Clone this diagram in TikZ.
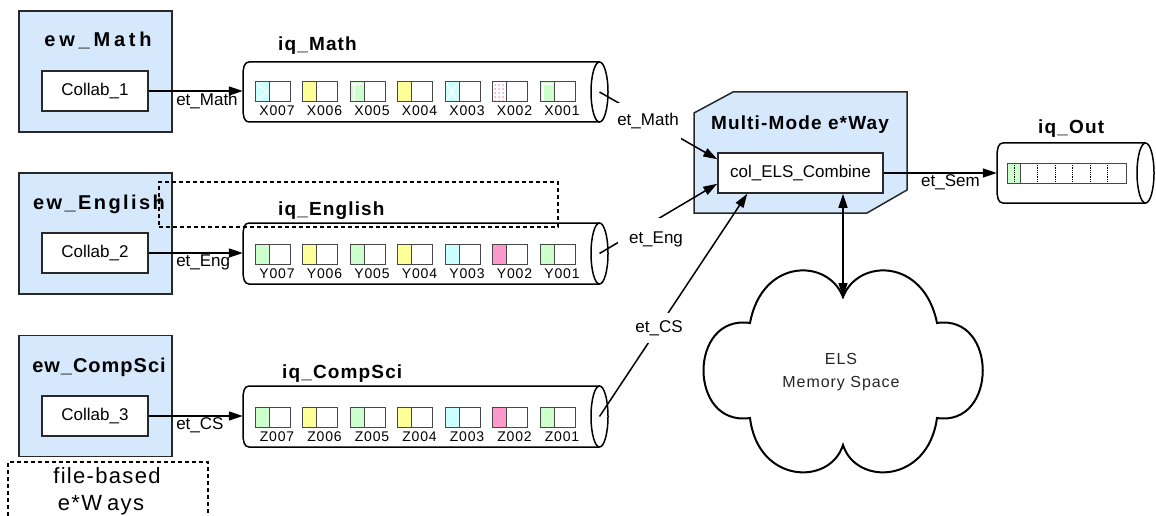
\documentclass[tikz,border=0pt]{standalone}
\usepackage{fontspec}
\setmainfont{Liberation Sans}
\newfontfamily\lsfont{Liberation Sans}[LetterSpace=6]
\usetikzlibrary{arrows.meta,calc}
\definecolor{ewblue}{RGB}{214,233,252}
\definecolor{qgreen}{RGB}{204,255,204}
\definecolor{qyellow}{RGB}{255,255,153}
\definecolor{qcyan}{RGB}{204,255,255}
\definecolor{qpink}{RGB}{255,153,204}
\definecolor{linegray}{RGB}{40,40,40}
\newcommand\fsz[2]{\fontsize{#1}{#2}\selectfont}
\newcommand\queuebody[4]{%
  \draw[qline] (#2,{#4-#3}) -- ({#1+6},{#4-#3}) .. controls ({#1+1},{#4-#3}) and (#1,{#4-#3-6}) .. (#1,{#4-#3-14})
     -- (#1,{-#3-#4+14}) .. controls (#1,{-#3-#4+6}) and ({#1+1},{-#3-#4}) .. ({#1+6},{-#3-#4}) -- (#2,{-#3-#4});
  \draw[qline] (#2,-#3) ellipse [x radius=8.5, y radius=#4];
}
\newcommand\qitem[5]{%
  \fill[#3] (#1,-#2) rectangle ++(14,-20);
  #5
  \draw[itemline] (#1,-#2) rectangle ++(35,-20);
  \draw[itemline] ({#1+14},-#2) -- ++(0,-20);
  \node[itemlbl, anchor=base] (l#4) at ({#1+22},{-#2-34}) {#4};
}
\tikzset{
  x=1pt, y=1pt,
  ewbox/.style={draw=linegray, line width=1.5pt, fill=ewblue, minimum width=153pt, minimum height=121pt, inner sep=0pt},
  collab/.style={draw=linegray, line width=1.5pt, fill=white, minimum width=106pt, minimum height=40pt, inner sep=0pt, font=\fsz{17}{20}},
  title/.style={font=\lsfont\bfseries\fsz{19}{22}, inner sep=0pt},
  ewtitle/.style={font=\lsfont\bfseries\fsz{20}{23}, inner sep=0pt},
  lbl/.style={font=\fsz{17}{20}, inner sep=1pt},
  itemlbl/.style={font=\lsfont\fsz{14}{16}, inner sep=0pt},
  arr/.style={line width=1.5pt, -{Triangle[length=14pt,width=9pt]}},
  qline/.style={line width=1.5pt},
  qnode/.style={draw=none, inner sep=0pt},
  itemline/.style={draw=linegray!85, line width=1pt},
  dashbox/.style={dash pattern=on 4pt off 3pt, line width=1.2pt},
  wl/.style={white, line width=1.3pt},
}
\begin{document}
\begin{tikzpicture}
\fill[white] (0,0) rectangle (1156,-516);
\useasboundingbox (0,0) rectangle (1156,-516);

% ---- e*Way boxes ----
\node[ewbox] (ewM) at (95.5,-71.5) {};
\node[ewtitle, anchor=base] (ewMt) at (98,-47) {\addfontfeature{LetterSpace=19}ew\_Math};
\node[collab] (c1) at (95,-91) {Collab\_1};

\node[ewbox] (ewE) at (95.5,-233.5) {};
\node[ewtitle, anchor=base] (ewEt) at (99,-209) {\addfontfeature{LetterSpace=12}ew\_English};
\node[collab] (c2) at (95,-253) {Collab\_2};

\node[ewbox] (ewC) at (95.5,-396) {};
\node[ewtitle, anchor=base] (ewCt) at (99,-372) {\addfontfeature{LetterSpace=5}ew\_CompSci};
\node[collab] (c3) at (95,-416) {Collab\_3};

\draw[dashbox] (8,-516) -- (8,-462) -- (208,-462) -- (208,-516);
\node[font=\lsfont\fsz{22}{27}, anchor=base, inner sep=0pt] (fb1) at (107,-483) {file-based};
\node[font=\lsfont\fsz{22}{27}, anchor=base, inner sep=0pt] (fb2) at (101,-510) {e*W\hspace{5pt}ays};

% ---- queues ----
\node[qnode, minimum width=365pt, minimum height=60pt] (qm) at (425.5,-92) {};
\queuebody{243}{599.5}{92}{30}
\coordinate (qmR) at (599.5,-92);
\node[title, anchor=base west] (qmt) at (278,-51) {iq\_Math};

\node[qnode, minimum width=365pt, minimum height=61pt] (qe) at (425.5,-253.5) {};
\queuebody{243}{599.5}{253.5}{30.5}
\coordinate (qeR) at (599.5,-253.5);
\node[title, anchor=base west] (qet) at (278,-215) {iq\_English};

\node[qnode, minimum width=365pt, minimum height=61pt] (qc) at (425.5,-416.5) {};
\queuebody{243}{599.5}{416.5}{30.5}
\coordinate (qcR) at (599.5,-416.5);
\node[title, anchor=base west] (qct) at (282,-378) {iq\_CompSci};

\node[qnode, minimum width=157pt, minimum height=60pt] (qo) at (1075.5,-173) {};
\queuebody{997}{1145.5}{173}{30}
\node[title, anchor=base west] (qot) at (1038,-134) {iq\_Out};

% items iq_Math
\qitem{255}{82}{qcyan}{X007}{\draw[wl] (256,-83) -- (267,-92) -- (256,-101);}
\qitem{302.5}{82}{qyellow}{X006}{}
\qitem{350}{82}{qgreen}{X005}{\draw[wl] (351,-84) -- (363,-84); \draw[wl] (354,-84) -- (354,-101);}
\qitem{397.5}{82}{qyellow}{X004}{}
\qitem{445}{82}{qcyan}{X003}{\draw[wl] (446,-83) -- (458,-101); \draw[wl] (458,-83) -- (446,-101);}
\qitem{492.5}{82}{white}{X002}{\foreach \i in {0,1,2} \foreach \j in {0,...,4} {\fill[qpink] ({495+4*\i},{-85-4*\j}) circle (1pt);}}
\qitem{540}{82}{qgreen}{X001}{\draw[wl] (543,-101) -- (543,-84) -- (553,-84);}

% items iq_English
\qitem{255}{244}{qgreen}{Y007}{}
\qitem{302.5}{244}{qyellow}{Y006}{}
\qitem{350}{244}{qgreen}{Y005}{}
\qitem{397.5}{244}{qyellow}{Y004}{}
\qitem{445}{244}{qcyan}{Y003}{}
\qitem{492.5}{244}{qpink}{Y002}{}
\qitem{540}{244}{qgreen}{Y001}{}

% items iq_CompSci
\qitem{255}{407}{qgreen}{Z007}{}
\qitem{302.5}{407}{qyellow}{Z006}{}
\qitem{350}{407}{qgreen}{Z005}{}
\qitem{397.5}{407}{qyellow}{Z004}{}
\qitem{445}{407}{qcyan}{Z003}{}
\qitem{492.5}{407}{qpink}{Z002}{}
\qitem{540}{407}{qgreen}{Z001}{}

% iq_Out bar
\fill[qgreen] (1007,-163) rectangle (1020,-183);
\foreach \xx in {1014,1037.5,1055,1072.5,1090,1107.5} {\draw[densely dotted, line width=0.8pt] (\xx,-163) -- (\xx,-183);}
\draw[itemline] (1020,-163) -- (1020,-183);
\draw[itemline] (1007,-163) rectangle (1126,-183);

% dashed box over iq_English
\node[dashbox, draw, minimum width=399pt, minimum height=45pt, inner sep=0pt] (dbox) at (358.5,-204.5) {};

% ---- left connectors ----
\draw[arr] (c1.east) -- (c1.east -| qm.west) node[lbl, pos=0.274, anchor=north west] (lem) {et\_Math};
\draw[arr] (c2.east) -- (c2.east -| qe.west) node[lbl, pos=0.274, anchor=north west] (lee) {et\_Eng};
\draw[arr] (c3.east) -- (c3.east -| qc.west) node[lbl, pos=0.274, anchor=north west] (lec) {et\_CS};

% ---- Multi-Mode e*Way ----
\draw[line width=1.5pt, draw=linegray, fill=ewblue] (694,-113) -- (733,-92) -- (907,-92) -- (907,-190) -- (867,-213) -- (694,-213) -- cycle;
\node[title, anchor=base] (mmt) at (800,-129) {Multi-Mode e*Way};
\node[collab, minimum width=165pt] (col) at (800.5,-173) {col\_ELS\_Combine};

\coordinate (colM) at ($(col.north west)+(0,-7)$);
\coordinate (colE) at ($(col.south west)+(0,10)$);
\coordinate (colC) at ($(col.south west)+(30,0)$);
\coordinate (colB) at ($(col.south)+(42.5,0)$);

\draw[arr] (qmR) -- (colM);
\node[lbl, fill=white, minimum width=66pt, minimum height=37pt] (rlm) at (648,-121.5) {et\_Math};
\draw[arr] (qeR) -- (colE);
\node[lbl, fill=white, minimum width=77pt, minimum height=42pt] (rle) at (656,-239) {et\_Eng};
\draw[arr] (qcR) -- (colC);
\node[lbl, fill=white, minimum height=30pt] (rlc) at (659,-328) {et\_CS};

\draw[arr] (col.east) -- (qo.west) node[lbl, pos=0.59, below] (les) {et\_Sem};

% ---- cloud ----
\coordinate (cloudtop) at (843,-297);
\draw[line width=2pt] (cloudtop) .. controls (828,-258) and (762,-258) .. (750,-323)
  .. controls (688,-314) and (688,-427) .. (750,-418)
  .. controls (758,-484) and (830,-486) .. (843,-445)
  .. controls (856,-486) and (928,-484) .. (937,-418)
  .. controls (998,-427) and (998,-314) .. (937,-323)
  .. controls (924,-258) and (858,-258) .. (cloudtop) -- cycle;
\node[font=\lsfont\fsz{16}{20}, anchor=base, inner sep=0pt, text=black!85] (els1) at (841,-364) {ELS};
\node[font=\lsfont\fsz{16}{20}, anchor=base, inner sep=0pt, text=black!85] (els2) at (841,-387) {Memory Space};

\draw[line width=1.5pt, {Triangle[length=14pt,width=9pt]}-{Triangle[length=14pt,width=9pt]}] (colB) -- (cloudtop);
\end{tikzpicture}
\end{document}
